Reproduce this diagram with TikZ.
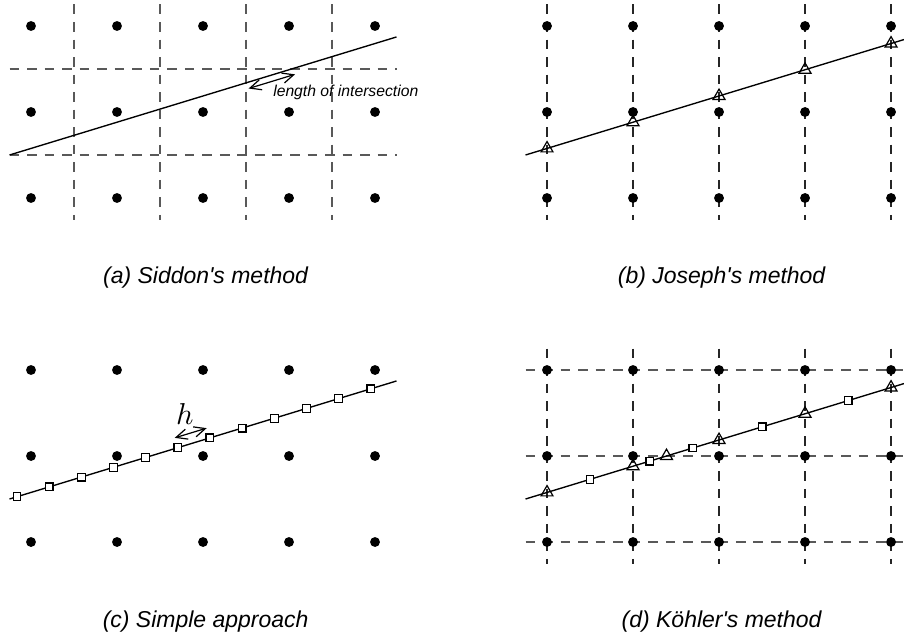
\documentclass[tikz,border=0pt]{standalone}
\usepackage{fontspec}
\usepackage{tikz}
\usetikzlibrary{arrows.meta,positioning,shapes.geometric}
\newfontfamily\capfont{Liberation Sans}

\begin{document}
\begin{tikzpicture}[
    declare function={ray(\x)=-1.5+0.305*(\x+0.25);},
    pix/.style={
        circle,
        fill=black,
        inner sep=0pt,
        minimum size=1.15mm
    },
    gridline/.style={
        black!65,
        line width=0.55pt,
        dash pattern=on 3.2pt off 2.6pt
    },
    ray/.style={
        line width=0.45pt
    },
    tri/.style={
        draw,
        regular polygon,
        regular polygon sides=3,
        inner sep=0pt,
        minimum size=1.6mm,
        line width=0.4pt
    },
    sq/.style={
        draw,
        fill=white,
        inner sep=0pt,
        minimum size=0.9mm,
        line width=0.4pt
    },
    dist/.style={
        {Straight Barb[length=1.3mm,width=1.2mm]}-{Straight Barb[length=1.3mm,width=1.2mm]},
        line width=0.4pt
    },
    caption/.style={
        anchor=base,
        font=\capfont\itshape\fontsize{7.6}{9}\selectfont
    },
    note/.style={
        anchor=base west,
        inner sep=0pt,
        font=\capfont\itshape\fontsize{5.2}{6}\selectfont
    }
]

\useasboundingbox (-0.3605,0.3023) rectangle (10.151,-7.093);
\clip (-0.3605,0.3023) rectangle (10.151,-7.093);

% (a) Siddon
\begin{scope}
\foreach \i in {0.5,1.5,2.5,3.5}
    \draw[gridline] (\i,0.25) -- (\i,-2.25);
\foreach \j in {-0.5,-1.5}
    \draw[gridline] (-0.25,\j) -- (4.25,\j);
\foreach \i in {0,...,4}
    \foreach \j in {0,1,2}
        \node[pix] (a\i\j) at (\i,-\j) {};
\coordinate (a-in) at (-0.25,{ray(-0.25)});
\coordinate (a-out) at (4.25,{ray(4.25)});
\draw[ray] (a-in) -- (a-out);
\coordinate (a-len1) at (2.53,-0.727);
\coordinate (a-len2) at (3.07,-0.562);
\draw[dist] (a-len1) -- (a-len2);
\node[note] (a-note) at (2.81,-0.814) {length of intersection};
\node[caption] (a-cap) at (2.03,-2.99) {(a) Siddon's method};
\end{scope}

% (b) Joseph
\begin{scope}[shift={(6,0)}]
\foreach \i in {0,...,4}
    \draw[gridline, black!85] (\i,0.25) -- (\i,-2.25);
\foreach \i in {0,...,4}
    \foreach \j in {0,1,2}
        \node[pix] (b\i\j) at (\i,-\j) {};
\coordinate (b-in) at (-0.25,{ray(-0.25)});
\coordinate (b-out) at (4.25,{ray(4.25)});
\draw[ray] (b-in) -- (b-out);
\foreach \i in {0,...,4}
    \node[tri] (b-t\i) at (\i,{ray(\i)}) {};
\node[caption] (b-cap) at (2.03,-2.99) {(b) Joseph's method};
\end{scope}

% (c) Simple approach
\begin{scope}[shift={(0,-4)}]
\foreach \i in {0,...,4}
    \foreach \j in {0,1,2}
        \node[pix] (c\i\j) at (\i,-\j) {};
\coordinate (c-in) at (-0.25,{ray(-0.25)});
\coordinate (c-out) at (4.25,{ray(4.25)});
\draw[ray] (c-in) -- (c-out);
\foreach \k [evaluate=\k as \x using -0.163+0.374*\k] in {0,...,11}
    \node[sq] (c-s\k) at (\x,{ray(\x)}) {};
\coordinate (c-h1) at (1.671,-0.789);
\coordinate (c-h2) at (2.043,-0.676);
\draw[dist] (c-h1) -- (c-h2);
\node[anchor=base, inner sep=0pt, font=\fontsize{10}{12}\selectfont] (c-h) at (1.79,-0.635) {$h$};
\node[caption] (c-cap) at (2.03,-2.99) {(c) Simple approach};
\end{scope}

% (d) Koehler
\begin{scope}[shift={(6,-4)}]
\foreach \i in {0,...,4}
    \draw[gridline, black!85] (\i,0.25) -- (\i,-2.25);
\foreach \j in {0,-1,-2}
    \draw[gridline] (-0.25,\j) -- (4.25,\j);
\foreach \i in {0,...,4}
    \foreach \j in {0,1,2}
        \node[pix] (d\i\j) at (\i,-\j) {};
\coordinate (d-in) at (-0.25,{ray(-0.25)});
\coordinate (d-out) at (4.25,{ray(4.25)});
\draw[ray] (d-in) -- (d-out);
\foreach \x [count=\n] in {0,1,1.3893,2,3,4}
    \node[tri] (d-t\n) at (\x,{ray(\x)}) {};
\foreach \x [count=\n] in {0.5,1.1947,1.6947,2.5,3.5}
    \node[sq] (d-s\n) at (\x,{ray(\x)}) {};
\node[caption] (d-cap) at (2.03,-2.99) {(d) Köhler's method};
\end{scope}

\end{tikzpicture}
\end{document}
